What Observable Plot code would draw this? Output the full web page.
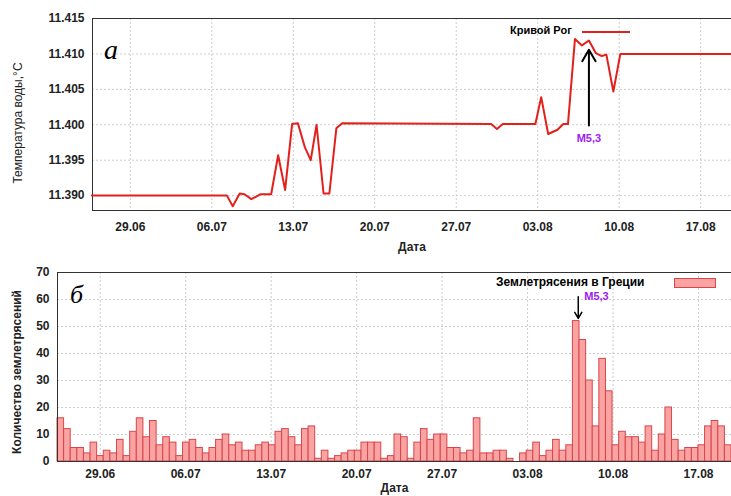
<!DOCTYPE html>
<html><head><meta charset="utf-8">
<script src="https://cdn.jsdelivr.net/npm/d3@7"></script>
<script src="https://cdn.jsdelivr.net/npm/@observablehq/plot@0.6"></script>
<style>
body{margin:0;background:#fff;font-family:"Liberation Sans",Arial,sans-serif}
#wrap{position:relative;width:731px;height:496px}
.abs{position:absolute;white-space:nowrap}
svg{display:block}
</style></head><body><div id="wrap"></div>
<script>
// days relative to 29.06
const tickLabels = ["29.06","06.07","13.07","20.07","27.07","03.08","10.08","17.08"];
const tickDays = [0,7,14,21,28,35,42,49];
const tempDays = [-3.3,8.3,8.8,9.4,9.8,10.4,11.2,12.1,12.7,13.3,13.9,14.4,15.0,15.5,16.0,16.6,17.1,17.7,18.2,31.0,31.5,32.0,34.8,35.3,35.9,36.7,37.2,37.6,38.2,38.8,39.4,40.0,40.5,40.9,41.5,42.1,51.7];
const tempVals = [11.390,11.390,11.3885,11.3903,11.3902,11.3895,11.3902,11.3902,11.3957,11.3908,11.4001,11.4002,11.3968,11.395,11.400,11.3903,11.3903,11.3995,11.4002,11.4001,11.3994,11.4001,11.4001,11.4039,11.3987,11.3993,11.4001,11.4001,11.4121,11.4112,11.4119,11.4101,11.4097,11.4099,11.4047,11.4100,11.4100];
const quakeCounts = [16,12,5,5,3,7,2,4,3,8,2,11,16,9,15,6,9,7,2,7,8,5,3,5,8,10,6,7,4,4,6,7,6,11,12,9,6,12,13,1,4,1,2,3,4,4,7,7,7,1,2,10,9,1,7,12,8,10,10,5,5,3,4,16,3,3,4,4,1,0,3,4,7,2,4,8,4,6,52,45,30,13,38,26,6,11,9,9,7,13,4,10,20,8,4,5,5,6,13,15,13,6];
const quakeStart = -3.5, quakeEnd = 51.7;
const eventDayTop = 39.4, eventDayBottom = 39.15;

const step = (quakeEnd - quakeStart) / quakeCounts.length;
const lineData = tempDays.map((d,i)=>({d, v: tempVals[i]}));
const barData = quakeCounts.map((c,i)=>({x1: quakeStart+i*step, x2: quakeStart+(i+1)*step, c}));
const fmtTick = d => tickLabels[tickDays.indexOf(d)];
const font = "Liberation Sans, Arial, sans-serif";
const wrap = document.getElementById("wrap");

const topChart = Plot.plot({
  width:731, height:258, marginLeft:92, marginRight:0, marginTop:18, marginBottom:48,
  style:{fontFamily:font, fontSize:"12px", fontWeight:"bold", color:"#222", overflow:"visible"},
  x:{domain:[-3.25,51.65], ticks:tickDays, tickFormat:fmtTick, label:"Дата", labelAnchor:"center", labelArrow:"none", labelOffset:40, tickSize:0, tickPadding:12},
  y:{domain:[11.3879,11.415], ticks:[11.39,11.395,11.40,11.405,11.41,11.415], tickFormat:".3f", label:null, tickSize:0, tickPadding:8},
  marks:[
    Plot.gridX(tickDays,{stroke:"#ccc", strokeDasharray:"2,2", strokeOpacity:1}),
    Plot.gridY([11.39,11.395,11.40,11.405,11.41],{stroke:"#ccc", strokeDasharray:"2,2", strokeOpacity:1}),
    Plot.frame({stroke:"#333"}),
    Plot.line(lineData,{x:"d", y:"v", stroke:"#e3201b", strokeWidth:2}),
    Plot.arrow([{x:eventDayTop}],{x1:"x", x2:"x", y1:11.3999, y2:11.4106, stroke:"#000", strokeWidth:2, headLength:10}),
    Plot.text([{x:eventDayTop}],{x:"x", y:11.398, text:()=>"M5,3", fill:"#a020f0", fontSize:11, dy:0})
  ]
});
topChart.style.position="absolute"; topChart.style.left="0"; topChart.style.top="0";
wrap.appendChild(topChart);

const botChart = Plot.plot({
  width:731, height:238, marginLeft:57, marginRight:0, marginTop:14, marginBottom:35,
  style:{fontFamily:font, fontSize:"12px", fontWeight:"bold", color:"#222", overflow:"visible"},
  x:{domain:[quakeStart,quakeEnd], ticks:tickDays, tickFormat:fmtTick, label:"Дата", labelAnchor:"center", labelArrow:"none", labelOffset:30, tickSize:0, tickPadding:8},
  y:{domain:[0,70], ticks:[0,10,20,30,40,50,60,70], label:null, tickSize:0, tickPadding:8},
  marks:[
    Plot.gridX(tickDays,{stroke:"#ccc", strokeDasharray:"2,2", strokeOpacity:1}),
    Plot.gridY([10,20,30,40,50,60],{stroke:"#ccc", strokeDasharray:"2,2", strokeOpacity:1}),
    Plot.rectY(barData,{x1:"x1", x2:"x2", y:"c", fill:"#f9a3a3", stroke:"#d9454a", strokeWidth:1}),
    Plot.frame({stroke:"#333"}),
    Plot.arrow([{x:eventDayBottom}],{x1:"x", x2:"x", y1:61, y2:53, stroke:"#000", strokeWidth:1.5, headLength:7}),
    Plot.text([{x:eventDayBottom}],{x:"x", y:61, text:()=>"M5,3", fill:"#a020f0", fontSize:11, textAnchor:"start", dx:6})
  ]
});
botChart.style.position="absolute"; botChart.style.left="0"; botChart.style.top="258px";
wrap.appendChild(botChart);

wrap.insertAdjacentHTML("beforeend", `
<div class="abs" style="left:18px;top:116px;width:0;display:flex;justify-content:center;transform:rotate(-90deg);font-size:12px;color:#222"><span>Температура воды,°С</span></div>
<div class="abs" style="left:17px;top:365px;width:0;display:flex;justify-content:center;transform:rotate(-90deg);font-size:12px;font-weight:bold;color:#222"><span>Количество землетрясений</span></div>
<div class="abs" style="left:104px;top:34px;font-family:'Liberation Serif',serif;font-style:italic;font-size:28px">a</div>
<div class="abs" style="left:70px;top:280px;font-family:'Liberation Serif',serif;font-style:italic;font-size:26px">б</div>
<div class="abs" style="left:510px;top:24px;font-size:11px;font-weight:bold">Кривой Рог</div>
<div class="abs" style="left:582px;top:31px;width:48px;height:2px;background:#e3201b"></div>
<div class="abs" style="left:496px;top:275px;font-size:12px;font-weight:bold">Землетрясения в Греции</div>
<div class="abs" style="left:674px;top:278px;width:40px;height:8px;background:#f9a3a3;border:1px solid #d9454a"></div>
`);
</script></body></html>
